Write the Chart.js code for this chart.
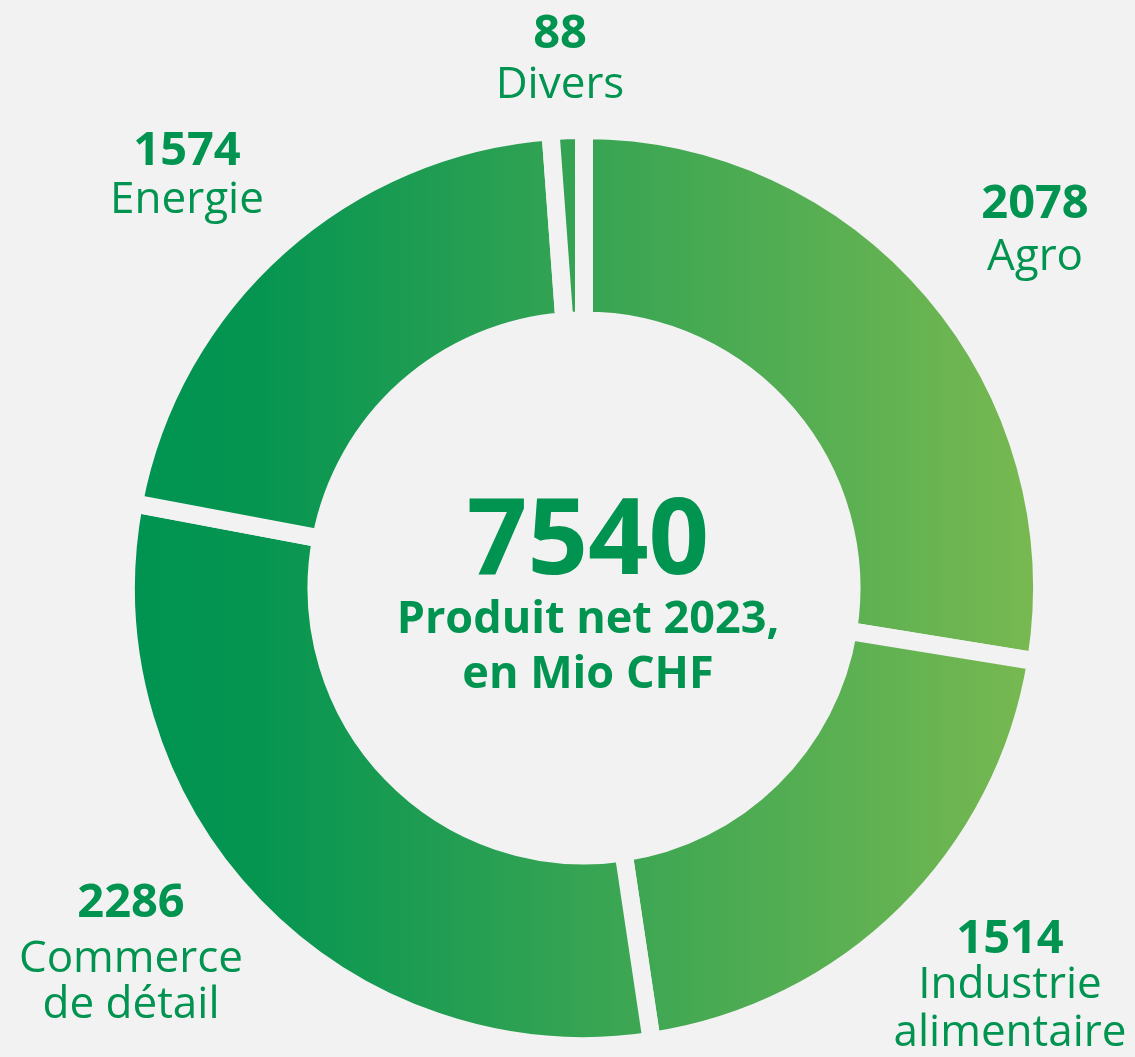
<!DOCTYPE html>
<html lang="fr">
<head>
    <meta charset="UTF-8">
    <title>Produit net 2023</title>
    <script src="https://cdn.jsdelivr.net/npm/chart.js"></script>
    <style>
        html, body { margin: 0; padding: 0; background: #f2f2f2; }
        .chart-container { position: relative; width: 1135px; height: 1057px; }
    </style>
</head>
<body>
    <div class="chart-container">
        <canvas id="donutChart"></canvas>
    </div>
    <script>
        // data (clockwise from the top)
        const categories = ['Agro', 'Industrie alimentaire', 'Commerce de détail', 'Energie', 'Divers'];
        const values = [2078, 1514, 2286, 1574, 88];
        const labelLines = [['Agro'], ['Industrie', 'alimentaire'], ['Commerce', 'de détail'], ['Energie'], ['Divers']];
        const totalValue = 7540;
        const centerLines = ['Produit net 2023,', 'en Mio CHF'];

        // label anchors: centre x, baselines of each line
        const labelPos = [
            { x: 1035, y: [218, 270] },
            { x: 1010, y: [953, 998, 1046] },
            { x: 131, y: [917, 972, 1018] },
            { x: 187, y: [165, 213] },
            { x: 560, y: [48, 98] }
        ];

        const textColor = '#009450';

        function greenGradient(context) {
            const chart = context.chart;
            const area = chart.chartArea;
            if (!area) return '#3aa655';
            const g = chart.ctx.createLinearGradient(area.left, 0, area.right, 0);
            g.addColorStop(0, '#009351');
            g.addColorStop(0.15, '#059551');
            g.addColorStop(0.5, '#36a453');
            g.addColorStop(0.8, '#5eb152');
            g.addColorStop(1, '#7bb951');
            return g;
        }

        const labelsPlugin = {
            id: 'donutLabels',
            afterDraw(chart) {
                const ctx = chart.ctx;
                ctx.save();
                ctx.fillStyle = textColor;
                ctx.textAlign = 'center';
                ctx.textBaseline = 'alphabetic';
                values.forEach((v, i) => {
                    const p = labelPos[i];
                    ctx.font = 'bold 47px "Open Sans"';
                    ctx.fillText(String(v), p.x, p.y[0]);
                    ctx.font = '44px "Open Sans"';
                    labelLines[i].forEach((line, j) => {
                        ctx.fillText(line, p.x, p.y[j + 1]);
                    });
                });
                // centre
                const meta = chart.getDatasetMeta(0).data[0];
                const cx = meta.x;
                ctx.font = 'bold 106px "Open Sans"';
                ctx.fillText(String(totalValue), cx + 4, 574);
                ctx.font = 'bold 45px "Open Sans"';
                ctx.fillText(centerLines[0], cx + 4, 633);
                ctx.fillText(centerLines[1], cx + 4, 688);
                ctx.restore();
            }
        };

        new Chart(document.getElementById('donutChart'), {
            type: 'doughnut',
            data: {
                labels: categories,
                datasets: [{
                    data: values,
                    backgroundColor: greenGradient,
                    borderColor: '#f2f2f2',
                    borderWidth: 18,
                    borderAlign: 'center'
                }]
            },
            options: {
                responsive: true,
                maintainAspectRatio: false,
                animation: false,
                cutout: '58.4%',
                layout: { padding: { left: 117, right: 84, top: 121, bottom: 2 } },
                plugins: {
                    legend: { display: false },
                    tooltip: { enabled: false }
                }
            },
            plugins: [labelsPlugin]
        });
    </script>
</body>
</html>
